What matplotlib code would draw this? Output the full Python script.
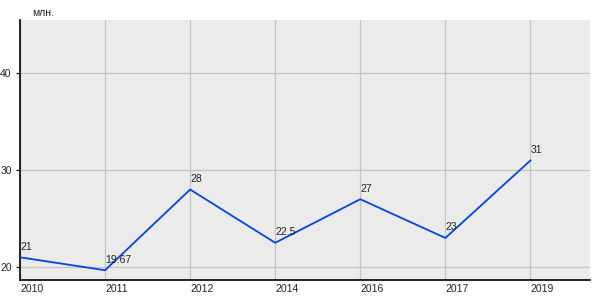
import matplotlib
matplotlib.use("Agg")
import matplotlib.pyplot as plt

years = ["2010", "2011", "2012", "2014", "2016", "2017", "2019"]
values = [21, 19.67, 28, 22.5, 27, 23, 31]
labels = ["21", "19.67", "28", "22.5", "27", "23", "31"]
yticks = [20, 30, 40]

plt.rcParams["font.family"] = ["Liberation Sans", "DejaVu Sans"]

fig = plt.figure(figsize=(6, 3), dpi=100)
ax = fig.add_axes([20/600, 20/300, 570/600, 260/300])
ax.set_facecolor("#ebebeb")

x = list(range(len(years)))
ax.plot(x, values, color="#0046e6", lw=1.3, zorder=3)
for xi, v, lab in zip(x, values, labels):
    ax.annotate(lab, (xi, v), xytext=(0, 4), textcoords="offset points",
                ha="left", va="bottom", fontsize=7.5, color="#222222", zorder=4)

ax.set_xlim(0, 6.7)
ax.set_ylim(18.66, 45.5)
ax.set_xticks(x)
ax.set_xticklabels(years, ha="left", fontsize=7.5, color="#222222")
ax.set_yticks(yticks)
ax.set_yticklabels([str(t) for t in yticks], fontsize=7.5, color="#222222")
ax.tick_params(axis="x", length=0, pad=3)
ax.tick_params(axis="y", length=3, width=0.8, pad=3)
ax.grid(True, color="#c4c4c4", lw=0.9, zorder=1)
ax.set_axisbelow(True)
for s in ["top", "right"]:
    ax.spines[s].set_visible(False)
for s in ["left", "bottom"]:
    ax.spines[s].set_color("black")
    ax.spines[s].set_linewidth(1.2)

fig.text(32/600, 1 - 13/300, "млн.", fontsize=7.5, color="#222222", va="center", ha="left")

fig.savefig("out.png", dpi=100)
